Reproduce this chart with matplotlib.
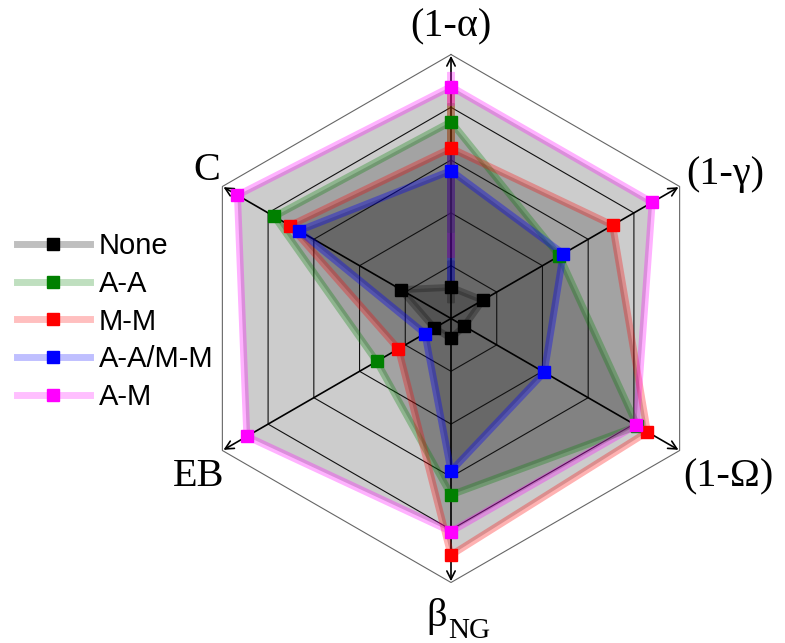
import numpy as np
import matplotlib
matplotlib.use("Agg")
import matplotlib.pyplot as plt
from matplotlib.colors import to_rgba

# Axis labels, counter-clockwise starting from the top
axis_labels = ["(1-α)", "C", "EB", "β", "(1-Ω)", "(1-γ)"]
axis_subscripts = ["", "", "", "NG", "", ""]

# Normalised scores per series, same order as axis_labels
none_vals = [0.118, 0.219, 0.073, 0.075, 0.058, 0.139]
aa_vals   = [0.745, 0.773, 0.325, 0.668, 0.815, 0.474]
mm_vals   = [0.645, 0.704, 0.230, 0.896, 0.859, 0.707]
aamm_vals = [0.560, 0.665, 0.114, 0.578, 0.408, 0.491]
am_vals   = [0.878, 0.934, 0.893, 0.807, 0.810, 0.880]

series_names = ["None", "A-A", "M-M", "A-A/M-M", "A-M"]
series_vals = [none_vals, aa_vals, mm_vals, aamm_vals, am_vals]
series_colors = ["black", "#008000", "red", "blue", "magenta"]
line_alpha = [0.25, 0.3, 0.3, 0.35, 0.3]

ring_levels = [0.2, 0.4, 0.6, 0.8, 1.0]

W, H = 785, 643
cx, cy, scale = 451, 318.5, 264.0

fig = plt.figure(figsize=(W / 100, H / 100), dpi=100)
ax = fig.add_axes([0, 0, 1, 1])
ax.set_xlim(-cx / scale, (W - cx) / scale)
ax.set_ylim(-(H - cy) / scale, cy / scale)
ax.set_aspect("auto")
ax.axis("off")

n = len(axis_labels)
angles = np.deg2rad(90 + 60 * np.arange(n))
ux, uy = np.cos(angles), np.sin(angles)

# Shaded areas
for vals in series_vals:
    v = np.array(vals)
    ax.fill(v * ux, v * uy, color="black", alpha=0.2, lw=0, zorder=1)

# Hexagonal grid
for lvl in ring_levels:
    xs = np.append(lvl * ux, lvl * ux[0])
    ys = np.append(lvl * uy, lvl * uy[0])
    col = "#666666" if lvl == 1.0 else "#111111"
    ax.plot(xs, ys, color=col, lw=0.8, zorder=2)

# Axes with arrow heads
for x, y in zip(ux, uy):
    ax.annotate("", xy=(x * 0.995, y * 0.995), xytext=(0, 0),
                arrowprops=dict(arrowstyle="->", color="black", lw=1.2,
                                mutation_scale=15, shrinkA=0, shrinkB=0),
                zorder=3)

# Series outlines and markers
handles = []
for name, vals, col, la in zip(series_names, series_vals, series_colors, line_alpha):
    v = np.array(vals)
    xs = np.append(v * ux, v * ux[0])
    ys = np.append(v * uy, v * uy[0])
    ax.plot(xs, ys, color=to_rgba(col, la), lw=5, solid_joinstyle="miter", zorder=4)
    ax.plot(v * ux, v * uy, ls="none", marker="s", ms=8, color=col, zorder=6)
    h, = ax.plot([], [], color=to_rgba(col, 0.25), lw=5, marker="s", ms=8,
                 mfc=col, mec=col, label=name)
    handles.append(h)

# Axis labels
serif = "Liberation Serif"
lab_fs = 29
label_pos = [
    (0.0, 1.105, "center", "center"),
    (-0.875, 0.56, "right", "center"),
    (-0.86, -0.60, "right", "center"),
    (-0.015, -1.165, "right", "baseline"),
    (0.88, -0.60, "left", "center"),
    (0.89, 0.545, "left", "center"),
]
for lab, sub, (x, y, ha, va) in zip(axis_labels, axis_subscripts, label_pos):
    ax.text(x, y, lab, fontsize=lab_fs, family=serif, ha=ha, va=va)
    if sub:
        ax.annotate(sub, xy=(x, y), xycoords="data",
                    xytext=(1, -12), textcoords="offset pixels",
                    fontsize=21, family=serif, ha="left", va="baseline")

ax.legend(handles=handles, loc="center left", bbox_to_anchor=(-0.012, 0.5),
          frameon=False, handlelength=2.5, handletextpad=0.3,
          labelspacing=0.33, prop={"family": "Liberation Sans", "size": 21})

fig.savefig("out.png", dpi=100)
